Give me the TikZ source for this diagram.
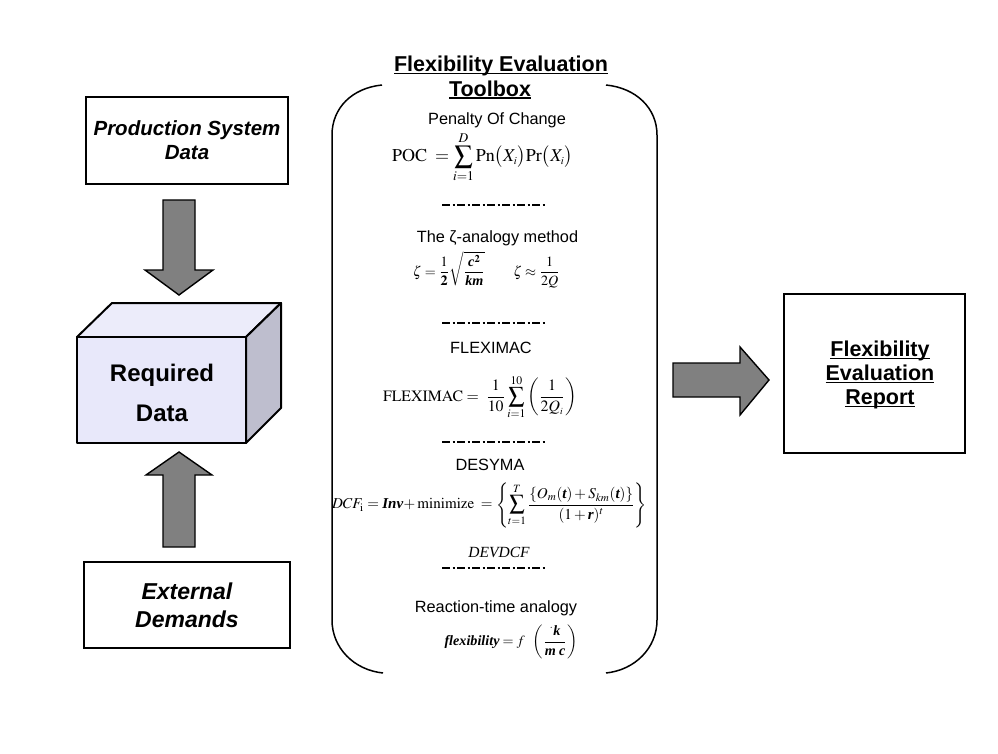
\documentclass[tikz,border=0pt]{standalone}
\usepackage{amsmath}
\usepackage{mathptmx}
\usepackage{fontspec}
\setmainfont{Liberation Serif}
\setsansfont{Liberation Sans}
\usepackage{graphicx}
\newcommand\bi[1]{\text{\bfseries\itshape #1}}
\newcommand\myul[1]{\setbox0\hbox{#1}\rlap{\rule[-2.8pt]{\wd0}{1.8pt}}\box0}
\definecolor{arrowgray}{RGB}{128,128,128}
\definecolor{cubefront}{RGB}{232,232,250}
\definecolor{cubetop}{RGB}{236,236,250}
\definecolor{cubeside}{RGB}{190,190,206}
\tikzset{
  databox/.style={draw=black, line width=2.5pt, fill=white, inner sep=0pt},
  blockarrow/.style={draw=black, line width=1.4pt, fill=arrowgray, line join=miter},
  cubeface/.style={draw=black, line width=2pt, line join=round},
  bracketline/.style={draw=black, line width=1.5pt},
  sepline/.style={draw=black, line width=1.6pt, dash pattern=on 8pt off 2.5pt on 2pt off 2.5pt},
  lbl/.style={inner sep=0pt, font=\sffamily\fontsize{16.3}{19}\selectfont},
  formula/.style={inner sep=0pt}
}
\begin{document}
\begin{tikzpicture}[x=1pt,y=-1pt]
\useasboundingbox (0,0) rectangle (998,754);
\fill[white] (0,0) rectangle (998,754);

% left column boxes
\node[databox, minimum width=202pt, minimum height=87pt, align=center,
      font=\sffamily\bfseries\itshape\fontsize{20.5}{24}\selectfont] (prod) at (187,140.5) {Production System\\Data};
\node[databox, minimum width=206pt, minimum height=86pt, align=center,
      font=\sffamily\bfseries\itshape\fontsize{23}{28}\selectfont] (ext) at (187,605) {External\\Demands};

% down arrow
\draw[blockarrow] (163,200) -- (195,200) -- (195,270) -- (213,270) -- (179,295) -- (145,270) -- (163,270) -- cycle;
% up arrow
\draw[blockarrow] (163,547) -- (195,547) -- (195,475) -- (212,475) -- (179,452) -- (146,475) -- (163,475) -- cycle;

% cube
\draw[cubeface, fill=cubetop] (77,337) -- (112,303) -- (281,303) -- (246,337) -- cycle;
\draw[cubeface, fill=cubeside] (246,337) -- (281,303) -- (281,408) -- (246,443) -- cycle;
\draw[cubeface, fill=cubefront] (77,337) rectangle (246,443);
\node[inner sep=0pt, align=center, font=\sffamily\bfseries\fontsize{24}{40}\selectfont] (req) at (162,393) {Required\\Data};

% toolbox bracket
\draw[bracketline] (382,85) .. controls (352,88) and (332,108) .. (332,135) -- (332,620) .. controls (332,648) and (354,670) .. (383,673);
\draw[bracketline] (606,85) .. controls (636,88) and (657,108) .. (657,135) -- (657,620) .. controls (657,648) and (635,670) .. (606,673);

% toolbox title
\node[inner sep=0pt, font=\sffamily\bfseries\fontsize{21.5}{24}\selectfont] (title1) at (501,66) {\myul{Flexibility Evaluation}};
\node[inner sep=0pt, font=\sffamily\bfseries\fontsize{21.5}{24}\selectfont] (title2) at (490,90) {\myul{Toolbox}};

% POC
\node[lbl] (poct) at (497,120) {Penalty Of Change};
\node[formula] (pocf) at (482.5,157) {\resizebox{181pt}{!}{$\displaystyle \mathrm{POC}\;=\sum_{i=1}^{D}\mathrm{Pn}\big(X_{\scriptscriptstyle i}\big)\mathrm{Pr}\big(X_{\scriptscriptstyle i}\big)$}};
\draw[sepline] (442,205) -- (545,205);

% zeta
\node[lbl] (zt) at (497.5,238) {The ζ-analogy method};
\node[formula] (zf) at (486.5,270) {\resizebox{147pt}{!}{$\displaystyle \zeta=\frac{1}{\mathbf{2}}\sqrt{\frac{\bi{c}^{\mathbf{2}}}{\bi{km}}}\qquad \zeta\approx\frac{1}{2Q}$}};
\draw[sepline] (442,323) -- (545,323);

% FLEXIMAC
\node[lbl] (ft) at (491,348) {FLEXIMAC};
\node[formula] (ff) at (480,397) {\resizebox{194pt}{!}{$\displaystyle \mathrm{FLEXIMAC}=\;\frac{1}{10}\sum_{i=1}^{10}\left(\frac{1}{2Q_{\scriptscriptstyle i}}\right)$}};
\draw[sepline] (442,442) -- (545,442);

% DESYMA
\node[lbl] (dt) at (490,465) {DESYMA};
\node[formula] (df) at (489.5,505) {\resizebox{315pt}{!}{$\displaystyle DCF_{\mathrm{i}}=\bi{Inv}\!+\mathrm{minimize}\;=\left\{\sum_{t=1}^{T}\frac{\{O_{m}(\bi{t})+S_{km}(\bi{t})\}}{(1+\bi{r})^{t}}\right\}$}};
\node[inner sep=0pt, font=\itshape\fontsize{15.5}{18}\selectfont] (devdcf) at (499,552) {DEVDCF};
\draw[sepline] (442,568) -- (545,568);

% reaction time
\node[lbl] (rt) at (496,608) {Reaction-time analogy};
\node[formula] (rf) at (511,642) {\resizebox{133pt}{!}{$\displaystyle \bi{flexibility}=f\;\;\left(\frac{{}^{\boldsymbol{\cdot}}\bi{k}}{\bi{m}\;\bi{c}}\right)$}};

% right arrow
\draw[blockarrow] (673,363) -- (740,363) -- (740,347) -- (769,380) -- (740,415) -- (740,397) -- (673,397) -- cycle;

% report box
\node[databox, minimum width=181pt, minimum height=159pt] (rep) at (874.5,373.5) {};
\node[inner sep=0pt, align=center, font=\sffamily\bfseries\fontsize{21.5}{24}\selectfont] (rept) at (880,375) {\myul{Flexibility}\\\myul{Evaluation}\\\myul{Report}};
\end{tikzpicture}
\end{document}
